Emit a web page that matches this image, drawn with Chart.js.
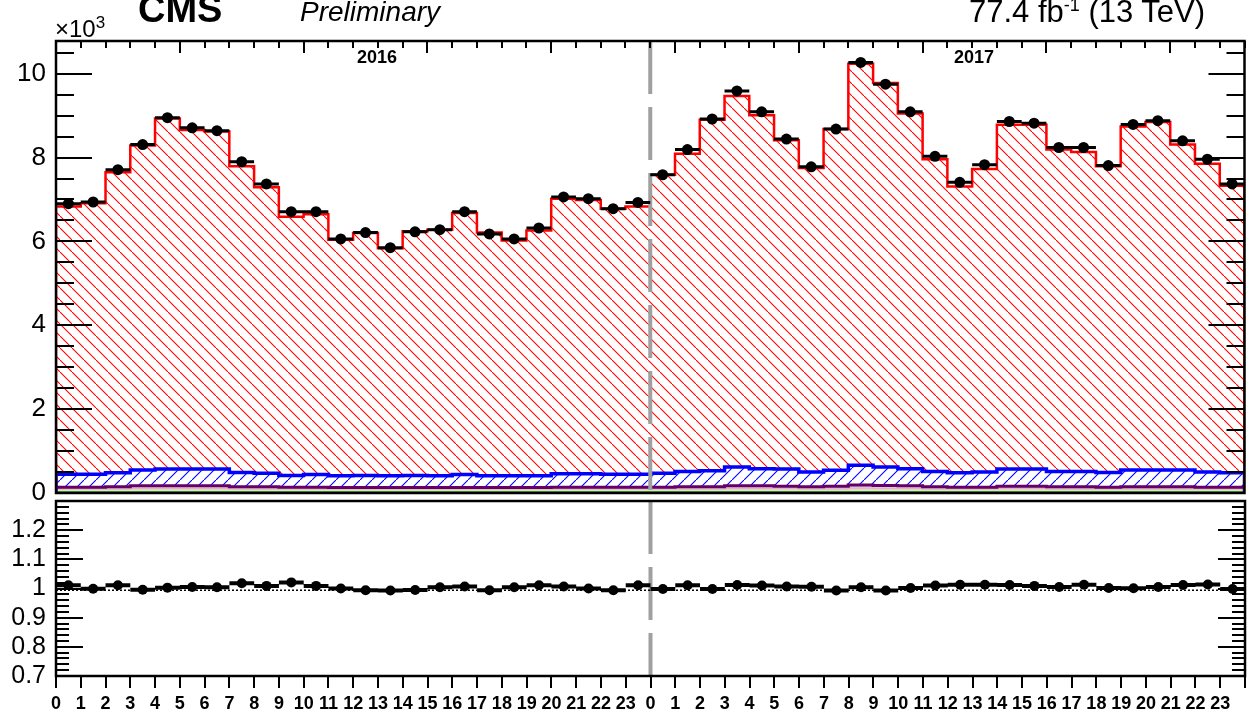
<!DOCTYPE html>
<html>
<head>
<meta charset="utf-8">
<script src="https://cdn.jsdelivr.net/npm/chart.js@4.4.0/dist/chart.umd.min.js"></script>
<style>
body { margin: 0; background: #fff; }
#wrap { position: relative; width: 1250px; height: 717px; overflow: hidden; font-family: 'Liberation Sans', Arial, sans-serif; }
#upper { position: absolute; left: 0; top: 0; }
#lower { position: absolute; left: 0; top: 490px; }
.txt { position: absolute; white-space: nowrap; color: #000; line-height: 1; }
</style>
</head>
<body>
<div id="wrap">
    <canvas id="upper" width="1250" height="510"></canvas>
    <canvas id="lower" width="1250" height="227"></canvas>
    <div class="txt" style="left:138px; top:-10px; font-size:38px; font-weight:bold;">CMS</div>
    <div class="txt" style="left:300px; top:-2px; font-size:28px; font-style:italic;">Preliminary</div>
    <div class="txt" style="right:45px; top:-4px; font-size:31px;">77.4 fb<span style="font-size:18px; position:relative; top:-11px;">-1</span> (13 TeV)</div>
    <div class="txt" style="left:55px; top:17px; font-size:24px;">&times;10<span style="font-size:17px; position:relative; top:-9px;">3</span></div>
    <div class="txt" style="left:377px; top:48px; font-size:18px; font-weight:bold; transform:translateX(-50%);">2016</div>
    <div class="txt" style="left:974px; top:48px; font-size:18px; font-weight:bold; transform:translateX(-50%);">2017</div>
</div>
<script>
// bins: hour of the day, one block per year
var years = ['2016', '2017'];
var hourLabels = ['0', '1', '2', '3', '4', '5', '6', '7', '8', '9', '10', '11',
                  '12', '13', '14', '15', '16', '17', '18', '19', '20', '21', '22', '23'];

// events / 1000
var data2016 = [6.90, 6.94, 7.71, 8.31, 8.95, 8.71, 8.64, 7.90, 7.37, 6.71, 6.71, 6.06,
                6.21, 5.85, 6.23, 6.28, 6.71, 6.18, 6.06, 6.32, 7.06, 7.02, 6.78, 6.93];
var data2017 = [7.59, 8.19, 8.92, 9.59, 9.09, 8.44, 7.78, 8.68, 10.27, 9.75, 9.09, 8.03,
                7.41, 7.83, 8.86, 8.82, 8.24, 8.24, 7.81, 8.79, 8.88, 8.40, 7.96, 7.37];

// top of the stacked prediction (red)
var mc2016 = [6.83, 6.91, 7.65, 8.29, 8.93, 8.66, 8.62, 7.79, 7.29, 6.59, 6.65, 6.04,
              6.20, 5.84, 6.24, 6.28, 6.68, 6.21, 6.02, 6.26, 7.02, 6.99, 6.78, 6.83];
var mc2017 = [7.59, 8.09, 8.90, 9.47, 9.01, 8.41, 7.75, 8.68, 10.24, 9.78, 9.05, 7.96,
              7.31, 7.73, 8.78, 8.78, 8.19, 8.13, 7.79, 8.74, 8.85, 8.31, 7.85, 7.33];

// top of the blue background
var bkg2016 = [0.45, 0.45, 0.48, 0.55, 0.57, 0.57, 0.57, 0.49, 0.47, 0.42, 0.44, 0.41,
               0.42, 0.41, 0.42, 0.41, 0.44, 0.41, 0.41, 0.41, 0.46, 0.46, 0.45, 0.45];
var bkg2017 = [0.47, 0.51, 0.53, 0.62, 0.58, 0.57, 0.50, 0.54, 0.66, 0.62, 0.58, 0.51,
               0.48, 0.50, 0.57, 0.57, 0.51, 0.51, 0.49, 0.55, 0.55, 0.55, 0.50, 0.48];

// smaller backgrounds (purple, pink, green tops)
var other2016 = [0.14, 0.14, 0.15, 0.17, 0.17, 0.17, 0.17, 0.15, 0.15, 0.14, 0.14, 0.13,
                 0.13, 0.13, 0.13, 0.13, 0.13, 0.13, 0.13, 0.13, 0.14, 0.14, 0.14, 0.14];
var other2017 = [0.14, 0.15, 0.15, 0.17, 0.17, 0.16, 0.15, 0.16, 0.19, 0.18, 0.17, 0.15,
                 0.14, 0.14, 0.16, 0.16, 0.15, 0.15, 0.14, 0.15, 0.15, 0.15, 0.14, 0.14];
var minor2016 = [0.09, 0.09, 0.09, 0.10, 0.10, 0.10, 0.10, 0.09, 0.09, 0.09, 0.09, 0.09,
                 0.09, 0.09, 0.09, 0.09, 0.09, 0.09, 0.09, 0.09, 0.09, 0.09, 0.09, 0.09];
var minor2017 = [0.09, 0.09, 0.09, 0.10, 0.10, 0.10, 0.09, 0.09, 0.11, 0.10, 0.10, 0.09,
                 0.09, 0.09, 0.10, 0.10, 0.09, 0.09, 0.09, 0.09, 0.09, 0.09, 0.09, 0.09];
var green2016 = [0.05, 0.05, 0.05, 0.05, 0.05, 0.05, 0.05, 0.05, 0.05, 0.05, 0.05, 0.05,
                 0.05, 0.05, 0.05, 0.05, 0.05, 0.05, 0.05, 0.05, 0.05, 0.05, 0.05, 0.05];
var green2017 = [0.05, 0.05, 0.05, 0.05, 0.05, 0.05, 0.05, 0.05, 0.05, 0.05, 0.05, 0.05,
                 0.05, 0.05, 0.05, 0.05, 0.05, 0.05, 0.05, 0.05, 0.05, 0.05, 0.05, 0.05];

// data / prediction
var ratio2016 = [1.011, 0.999, 1.011, 0.996, 1.003, 1.005, 1.004, 1.018, 1.009, 1.021, 1.009, 1.000,
                 0.994, 0.993, 0.995, 1.004, 1.007, 0.994, 1.004, 1.011, 1.007, 1.000, 0.994, 1.011];
var ratio2017 = [0.998, 1.011, 0.998, 1.012, 1.010, 1.007, 1.006, 0.993, 1.004, 0.993, 1.002, 1.010,
                 1.013, 1.013, 1.012, 1.009, 1.005, 1.013, 1.002, 1.001, 1.005, 1.012, 1.014, 0.998];
var ratioBandLow = 0.994;

var upperMax = 10.78;
var ratioMin = 0.7, ratioMax = 1.3;

Chart.defaults.font.family = "'Liberation Sans', Arial, sans-serif";
Chart.defaults.color = '#000';

var nBins = hourLabels.length * years.length;

function stepPoints(a, b, edges) {
    var v = a.concat(b), pts = [];
    if (edges) pts.push({x: 0, y: 0});
    for (var i = 0; i < v.length; i++) pts.push({x: i, y: v[i]});
    pts.push({x: v.length, y: v[v.length - 1]});
    if (edges) pts.push({x: v.length, y: 0});
    return pts;
}

function barPoints(a, b) {
    var v = a.concat(b), pts = [];
    for (var i = 0; i < v.length; i++) {
        pts.push({x: i, y: v[i]});
        pts.push({x: i + 1, y: v[i]});
        pts.push({x: i + 1, y: null});
    }
    return pts;
}

function dotPoints(a, b) {
    var v = a.concat(b), pts = [];
    for (var i = 0; i < v.length; i++) pts.push({x: i + 0.5, y: v[i]});
    return pts;
}

function hatch(color, back) {
    var c = document.createElement('canvas');
    c.width = 12;
    c.height = 12;
    var g = c.getContext('2d');
    g.strokeStyle = color;
    g.lineWidth = 1.1;
    g.beginPath();
    if (back) {
        g.moveTo(-2, -2); g.lineTo(14, 14);
    } else {
        g.moveTo(-2, 14); g.lineTo(14, -2);
    }
    g.stroke();
    return g.createPattern(c, 'repeat');
}

// no label overflow padding, the frame is placed by layout.padding only
function fixWidth(s) {
    s.width = 56;
    s.paddingTop = 0;
    s.paddingBottom = 0;
    s.paddingLeft = 0;
    s.paddingRight = 0;
}

// ROOT style frame with inward ticks
var rootFrame = {
    id: 'rootFrame',
    afterDatasetsDraw: function (chart, args, o) {
        var ctx = chart.ctx, a = chart.chartArea;
        var sx = chart.scales.x, sy = chart.scales.y;
        ctx.save();
        ctx.strokeStyle = '#000';
        ctx.lineWidth = 2;
        ctx.beginPath();
        for (var i = 0; ; i++) {
            var v = sy.min + i * o.yMinor;
            if (v > sy.max + 1e-9) break;
            var py = Math.round(sy.getPixelForValue(v));
            var len = (i % o.yRatio === 0) ? o.yMajorLen : o.yMinorLen;
            ctx.moveTo(a.left, py); ctx.lineTo(a.left + len, py);
            ctx.moveTo(a.right, py); ctx.lineTo(a.right - len, py);
        }
        for (var j = 0; j <= nBins; j++) {
            var px = Math.round(sx.getPixelForValue(j));
            if (o.xTop) {
                ctx.moveTo(px, a.top);
                ctx.lineTo(px, a.top + (j % 5 === 0 ? 12 : 7));
            }
            if (o.xBottomOut) {
                ctx.moveTo(px, a.bottom);
                ctx.lineTo(px, a.bottom + 12);
            }
        }
        ctx.stroke();
        ctx.lineWidth = 2.5;
        ctx.strokeRect(a.left, a.top, a.right - a.left, a.bottom - a.top);
        ctx.restore();
    }
};

var redHatch = hatch('#ff0000', true);
var blueHatch = hatch('#0000ff', false);

new Chart(document.getElementById('upper').getContext('2d'), {
    type: 'line',
    data: {
        datasets: [
            { // 0 data dots
                data: dotPoints(data2016, data2017), showLine: false, order: 0,
                pointRadius: 5.5, pointBackgroundColor: '#000', pointBorderColor: '#000', pointBorderWidth: 0
            },
            { // 1 data bars
                data: barPoints(data2016, data2017), borderColor: '#000', borderWidth: 3,
                pointRadius: 0, spanGaps: false, order: 1
            },
            { // 2 year separator
                data: [{x: hourLabels.length, y: upperMax}, {x: hourLabels.length, y: 0}],
                borderColor: '#a0a0a0', borderWidth: 4, borderDash: [53, 13], pointRadius: 0, order: 2
            },
            { // 3 red outline
                data: stepPoints(mc2016, mc2017, true), stepped: true, borderColor: '#ff0000',
                borderWidth: 2.5, pointRadius: 0, order: 3
            },
            { // 4 blue outline
                data: stepPoints(bkg2016, bkg2017, true), stepped: true, borderColor: '#0000ff',
                borderWidth: 3.5, pointRadius: 0, order: 4
            },
            { // 5 purple
                data: stepPoints(other2016, other2017), stepped: true, borderColor: '#660066',
                borderWidth: 3, pointRadius: 0, order: 5,
                fill: {target: 6}, backgroundColor: 'rgba(200,160,200,0.6)'
            },
            { // 6 pink
                data: stepPoints(minor2016, minor2017), stepped: true, borderColor: '#e6c8c0',
                borderWidth: 1.5, pointRadius: 0, order: 6,
                fill: {target: 7}, backgroundColor: '#efd9cf'
            },
            { // 7 green
                data: stepPoints(green2016, green2017), stepped: true, borderColor: '#33bb33',
                borderWidth: 3, pointRadius: 0, order: 7,
                fill: 'origin', backgroundColor: '#66cc66'
            },
            { // 8 red hatch fill
                data: stepPoints(mc2016, mc2017), stepped: true, borderWidth: 0, pointRadius: 0,
                order: 8, fill: {target: 9}, backgroundColor: redHatch
            },
            { // 9 blue hatch fill
                data: stepPoints(bkg2016, bkg2017), stepped: true, borderWidth: 0, pointRadius: 0,
                order: 9, fill: {target: 5}, backgroundColor: blueHatch
            }
        ]
    },
    options: {
        responsive: false,
        animation: false,
        layout: { padding: { top: 41, bottom: 17, left: 0, right: 2 } },
        plugins: {
            legend: { display: false },
            tooltip: { enabled: false },
            rootFrame: { yMinor: 0.5, yRatio: 4, yMajorLen: 36, yMinorLen: 18, xTop: true }
        },
        scales: {
            x: { type: 'linear', min: 0, max: nBins, display: false },
            y: {
                type: 'linear', min: 0, max: upperMax,
                grid: { display: false, drawTicks: false },
                border: { display: false },
                ticks: { stepSize: 2, includeBounds: false, padding: 10, font: { size: 26 } },
                afterBuildTicks: function (s) {
                    s.ticks = s.ticks.filter(function (t) { return Math.abs(t.value / 2 - Math.round(t.value / 2)) < 1e-6; });
                },
                afterFit: fixWidth
            }
        }
    },
    plugins: [rootFrame]
});

new Chart(document.getElementById('lower').getContext('2d'), {
    type: 'line',
    data: {
        datasets: [
            {
                data: dotPoints(ratio2016, ratio2017), showLine: false, order: 0,
                pointRadius: 5, pointBackgroundColor: '#000', pointBorderColor: '#000', pointBorderWidth: 0
            },
            {
                data: barPoints(ratio2016, ratio2017), borderColor: '#000', borderWidth: 4,
                pointRadius: 0, spanGaps: false, order: 1
            },
            {
                data: [{x: 0, y: ratioBandLow}, {x: nBins, y: ratioBandLow}], borderColor: '#000',
                borderWidth: 1.5, borderDash: [2, 2], pointRadius: 0, order: 2
            },
            {
                data: [{x: hourLabels.length, y: ratioMax}, {x: hourLabels.length, y: ratioMin}],
                borderColor: '#a0a0a0', borderWidth: 4, borderDash: [53, 13], pointRadius: 0, order: 3
            }
        ]
    },
    options: {
        responsive: false,
        animation: false,
        layout: { padding: { top: 11, bottom: 0, left: 0, right: 2 } },
        plugins: {
            legend: { display: false },
            tooltip: { enabled: false },
            rootFrame: { yMinor: 0.02, yRatio: 5, yMajorLen: 27, yMinorLen: 13, xBottomOut: true }
        },
        scales: {
            x: {
                type: 'linear', min: 0, max: nBins,
                grid: { display: false, drawTicks: false },
                border: { display: false },
                ticks: {
                    stepSize: 1, autoSkip: false, maxRotation: 0, maxTicksLimit: 100, includeBounds: false,
                    padding: 17, font: { size: 18, weight: 'bold' },
                    callback: function (v) { return v < nBins ? hourLabels[v % hourLabels.length] : ''; }
                },
                afterFit: function (s) {
                    s.height = 41;
                    s.paddingLeft = 0;
                    s.paddingRight = 0;
                    s.paddingTop = 0;
                    s.paddingBottom = 0;
                }
            },
            y: {
                type: 'linear', min: ratioMin, max: ratioMax,
                grid: { display: false, drawTicks: false },
                border: { display: false },
                ticks: {
                    stepSize: 0.1, includeBounds: false, padding: 10, font: { size: 25 },
                    callback: function (v) { return String(Math.round(v * 10) / 10); }
                },
                afterBuildTicks: function (s) {
                    s.ticks = s.ticks.filter(function (t) { return t.value < 1.25; });
                },
                afterFit: fixWidth
            }
        }
    },
    plugins: [rootFrame]
});
</script>
</body>
</html>
